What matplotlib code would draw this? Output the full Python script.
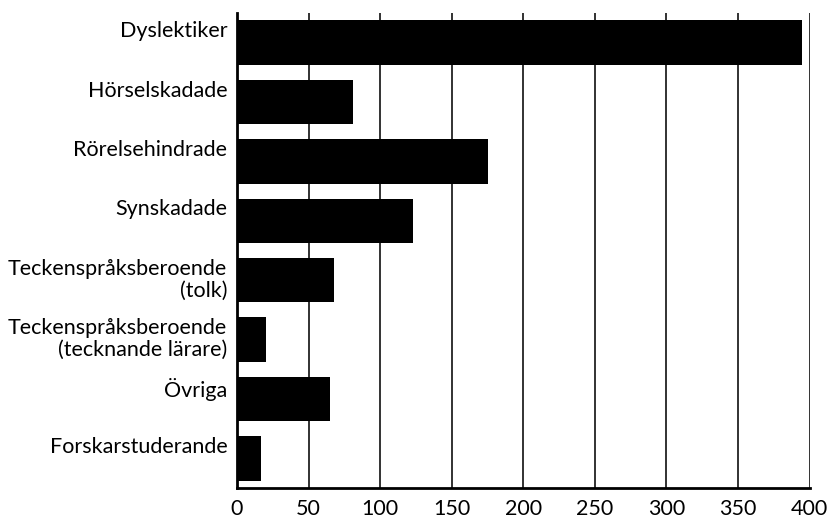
import numpy as np
import matplotlib
matplotlib.use("Agg")
import matplotlib.pyplot as plt

# categories, top to bottom
categories = ["Dyslektiker", "Hörselskadade", "Rörelsehindrade", "Synskadade",
              "Teckenspråksberoende\n(tolk)",
              "Teckenspråksberoende\n(tecknande lärare)",
              "Övriga", "Forskarstuderande"]
values = [395, 81, 175, 123, 68, 20, 65, 17]
xticks = [0, 50, 100, 150, 200, 250, 300, 350, 400]

plt.rcParams['font.family'] = ['Lato', 'DejaVu Sans']

fig = plt.figure(figsize=(8.27, 5.19), dpi=100)
ax = fig.add_axes([0.2866, 0.0597, 0.979 - 0.2866, 0.975 - 0.0597])

y = np.arange(len(categories))
ax.barh(y, values, height=0.75, color="black", zorder=3)

# vertical gridlines
for t in xticks[1:]:
    ax.axvline(t, color="#222222", linewidth=1.3, zorder=1)

ax.set_xlim(0, 400)
ax.set_ylim(len(categories) - 0.5, -0.5)
# labels sit at the top of each bar, not centred
ax.set_yticks(y - 0.36)
ax.set_yticklabels(categories, fontsize=15.5, linespacing=1.1, va="top")
ax.set_xticks(xticks)
ax.set_xticklabels([str(t) for t in xticks], fontsize=15.5)
ax.tick_params(axis="y", length=0, pad=7)
ax.tick_params(axis="x", length=0, pad=8)

for s in ["top", "right"]:
    ax.spines[s].set_visible(False)
ax.spines["left"].set_linewidth(2)
ax.spines["bottom"].set_linewidth(2)

fig.savefig("out.png", dpi=100)
